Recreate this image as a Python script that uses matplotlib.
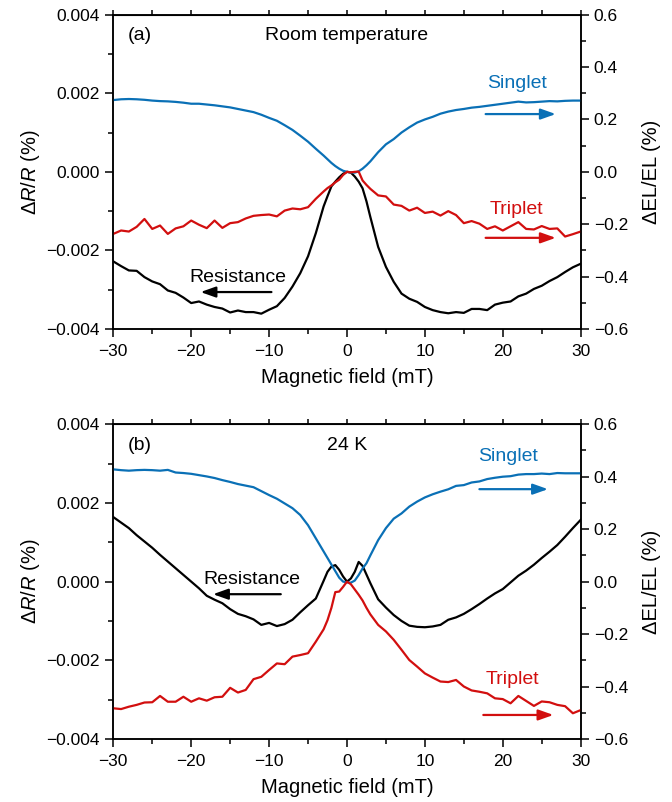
import matplotlib
matplotlib.use("Agg")
import matplotlib.pyplot as plt
from matplotlib.ticker import MultipleLocator, FuncFormatter
import numpy as np

plt.rcParams['font.family'] = ['Liberation Sans', 'DejaVu Sans']
plt.rcParams['mathtext.fontset'] = 'custom'
plt.rcParams['mathtext.rm'] = 'Liberation Sans'
plt.rcParams['mathtext.it'] = 'Liberation Sans:italic'

BLUE = '#0a70b6'
RED = '#d20f0f'

# magnetic field (mT), shared by all curves
field = ([float(v) for v in range(-30, -3)]
         + [-3, -2.5, -2, -1.5, -1, -0.5, 0, 0.5, 1, 1.5, 2, 2.5, 3]
         + [float(v) for v in range(4, 31)])

# (a) room temperature
rt_res = [-2.28, -2.40, -2.51, -2.52, -2.68, -2.79, -2.86, -3.02, -3.08, -3.20,
          -3.34, -3.30, -3.38, -3.44, -3.48, -3.58, -3.53, -3.57, -3.57, -3.61,
          -3.51, -3.42, -3.21, -2.92, -2.58, -2.15, -1.56,
          -0.88, -0.62, -0.37, -0.25, -0.14, -0.05, 0.0, -0.02, -0.12, -0.25, -0.42, -0.75, -1.15,
          -1.91, -2.42, -2.80, -3.10, -3.23, -3.31, -3.44, -3.52, -3.57, -3.60,
          -3.57, -3.59, -3.49, -3.49, -3.52, -3.38, -3.33, -3.30, -3.17, -3.10,
          -2.98, -2.90, -2.78, -2.68, -2.55, -2.43, -2.34]
rt_singlet = [0.274, 0.277, 0.278, 0.277, 0.275, 0.272, 0.270, 0.269, 0.267, 0.264,
              0.260, 0.260, 0.257, 0.254, 0.250, 0.246, 0.240, 0.234, 0.228, 0.218,
              0.206, 0.195, 0.178, 0.160, 0.138, 0.115, 0.088,
              0.062, 0.048, 0.034, 0.022, 0.012, 0.004, 0.0, -0.002, -0.003, 0.002, 0.012, 0.025, 0.040,
              0.075, 0.105, 0.125, 0.150, 0.170, 0.188, 0.200, 0.210, 0.222, 0.230,
              0.236, 0.240, 0.245, 0.248, 0.252, 0.256, 0.260, 0.264, 0.268, 0.265,
              0.266, 0.268, 0.270, 0.269, 0.271, 0.272, 0.272]
rt_triplet = [-0.237, -0.224, -0.228, -0.210, -0.180, -0.218, -0.205, -0.237, -0.216, -0.208,
              -0.186, -0.202, -0.215, -0.186, -0.214, -0.196, -0.192, -0.178, -0.168, -0.165,
              -0.163, -0.170, -0.148, -0.140, -0.143, -0.135, -0.103,
              -0.075, -0.062, -0.052, -0.040, -0.030, -0.012, 0.0, -0.002, 0.0, 0.001, -0.033, -0.050, -0.065,
              -0.090, -0.094, -0.125, -0.130, -0.148, -0.137, -0.157, -0.152, -0.167, -0.150,
              -0.165, -0.196, -0.188, -0.198, -0.218, -0.208, -0.224, -0.208, -0.192, -0.218,
              -0.220, -0.207, -0.218, -0.216, -0.247, -0.238, -0.228]

# (b) 24 K
lt_res = [1.64, 1.50, 1.36, 1.18, 1.02, 0.86, 0.68, 0.51, 0.34, 0.17,
          0.00, -0.17, -0.36, -0.46, -0.55, -0.70, -0.82, -0.88, -0.96, -1.10,
          -1.05, -1.13, -1.08, -0.97, -0.78, -0.60, -0.43,
          0.02, 0.25, 0.38, 0.42, 0.30, 0.13, 0.0, 0.08, 0.25, 0.50, 0.40, 0.18, -0.04,
          -0.45, -0.66, -0.85, -1.00, -1.12, -1.15, -1.16, -1.14, -1.10, -0.97,
          -0.91, -0.82, -0.70, -0.57, -0.43, -0.30, -0.19, -0.02, 0.15, 0.28,
          0.43, 0.60, 0.76, 0.93, 1.14, 1.36, 1.57]
lt_singlet = [0.428, 0.425, 0.423, 0.425, 0.426, 0.425, 0.423, 0.426, 0.416, 0.414,
              0.411, 0.406, 0.401, 0.395, 0.387, 0.380, 0.372, 0.366, 0.360, 0.345,
              0.330, 0.316, 0.298, 0.280, 0.254, 0.215, 0.165,
              0.115, 0.090, 0.065, 0.040, 0.015, 0.0, -0.003, -0.004, 0.004, 0.025, 0.050, 0.070, 0.100,
              0.158, 0.204, 0.240, 0.260, 0.286, 0.305, 0.321, 0.333, 0.343, 0.352,
              0.365, 0.368, 0.378, 0.382, 0.391, 0.396, 0.400, 0.402, 0.408, 0.410,
              0.410, 0.412, 0.410, 0.414, 0.413, 0.413, 0.413]
lt_triplet = [-0.483, -0.486, -0.477, -0.470, -0.461, -0.460, -0.436, -0.458, -0.458, -0.439,
              -0.458, -0.445, -0.454, -0.441, -0.439, -0.405, -0.423, -0.413, -0.372, -0.363,
              -0.337, -0.312, -0.315, -0.286, -0.280, -0.273, -0.229,
              -0.182, -0.147, -0.100, -0.040, -0.038, -0.020, 0.0, -0.010, -0.030, -0.050, -0.072, -0.100, -0.125,
              -0.165, -0.190, -0.222, -0.260, -0.299, -0.324, -0.350, -0.366, -0.381, -0.383,
              -0.375, -0.400, -0.415, -0.420, -0.426, -0.445, -0.448, -0.464, -0.436, -0.455,
              -0.474, -0.457, -0.460, -0.470, -0.475, -0.502, -0.490]

panels = [
    dict(res=rt_res, singlet=rt_singlet, triplet=rt_triplet, tag='(a)', title='Room temperature',
         singlet_txt=(21.8, 0.00226), singlet_arr=(17.8, 26.8, 0.00147),
         triplet_txt=(21.7, -0.00095), triplet_arr=(17.8, 26.8, -0.00168),
         res_txt=(-14.0, -0.00268), res_arr=(-9.7, -18.8, -0.00306)),
    dict(res=lt_res, singlet=lt_singlet, triplet=lt_triplet, tag='(b)', title='24 K',
         singlet_txt=(20.7, 0.00317), singlet_arr=(17.0, 25.8, 0.00235),
         triplet_txt=(21.3, -0.0025), triplet_arr=(17.5, 26.5, -0.00339),
         res_txt=(-12.2, 0.000064), res_arr=(-8.5, -17.2, -0.00032)),
]

fig = plt.figure(figsize=(6.72, 8.02), dpi=100)
axes_rects = [[0.1686, 0.5898, 0.6955, 0.3919], [0.1686, 0.0786, 0.6955, 0.3924]]

fmt_left = FuncFormatter(lambda v, p: ('%.3f' % v).replace('-', '\u2212'))
fmt_right = FuncFormatter(lambda v, p: ('%.1f' % v).replace('-', '\u2212'))
fmt_x = FuncFormatter(lambda v, p: ('%d' % round(v)).replace('-', '\u2212'))

x = np.array(field)
for rect, pn in zip(axes_rects, panels):
    ax = fig.add_axes(rect)
    ax2 = ax.twinx()
    ax.plot(x, np.array(pn['res']) * 1e-3, color='black', lw=1.6, zorder=3)
    ax2.plot(x, pn['singlet'], color=BLUE, lw=1.6)
    ax2.plot(x, pn['triplet'], color=RED, lw=1.6)

    ax.set_xlim(-30, 30)
    ax.set_ylim(-0.004, 0.004)
    ax2.set_ylim(-0.6, 0.6)
    ax.xaxis.set_major_locator(MultipleLocator(10))
    ax.xaxis.set_minor_locator(MultipleLocator(5))
    ax.yaxis.set_major_locator(MultipleLocator(0.002))
    ax.yaxis.set_minor_locator(MultipleLocator(0.001))
    ax2.yaxis.set_major_locator(MultipleLocator(0.2))
    ax2.yaxis.set_minor_locator(MultipleLocator(0.1))
    ax.yaxis.set_major_formatter(fmt_left)
    ax2.yaxis.set_major_formatter(fmt_right)
    ax.xaxis.set_major_formatter(fmt_x)

    for a in (ax, ax2):
        a.tick_params(which='major', direction='out', length=6, width=1.1, labelsize=12.5)
        a.tick_params(which='minor', direction='out', length=3.5, width=1.1)
        for s in a.spines.values():
            s.set_linewidth(1.1)
    ax.tick_params(axis='x', pad=5)

    top = ax.secondary_xaxis('top')
    top.xaxis.set_major_locator(MultipleLocator(5))
    top.tick_params(direction='out', length=3.5, width=1.1, labeltop=False)

    ax.set_xlabel('Magnetic field (mT)', fontsize=14.5, labelpad=6)
    ax.set_ylabel(r'$\Delta\it{R}/\it{R}$ (%)', fontsize=14.5, labelpad=3)
    ax2.set_ylabel('\u0394EL/EL (%)', fontsize=14.5, labelpad=10)

    ax.text(-26.6, 0.00346, pn['tag'], fontsize=14, ha='center', va='center')
    ax.text(0, 0.00346, pn['title'], fontsize=14, ha='center', va='center')
    ax.text(*pn['singlet_txt'], 'Singlet', color=BLUE, fontsize=14, ha='center', va='center')
    ax.text(*pn['triplet_txt'], 'Triplet', color=RED, fontsize=14, ha='center', va='center')
    ax.text(*pn['res_txt'], 'Resistance', color='black', fontsize=14, ha='center', va='center')

    for key, col in (('singlet_arr', BLUE), ('triplet_arr', RED), ('res_arr', 'black')):
        x0, x1, yy = pn[key]
        ax.annotate('', xy=(x1, yy), xytext=(x0, yy),
                    arrowprops=dict(arrowstyle='-|>,head_length=0.9,head_width=0.32',
                                    color=col, lw=1.6, shrinkA=0, shrinkB=0))

fig.savefig('out.png', dpi=100)
